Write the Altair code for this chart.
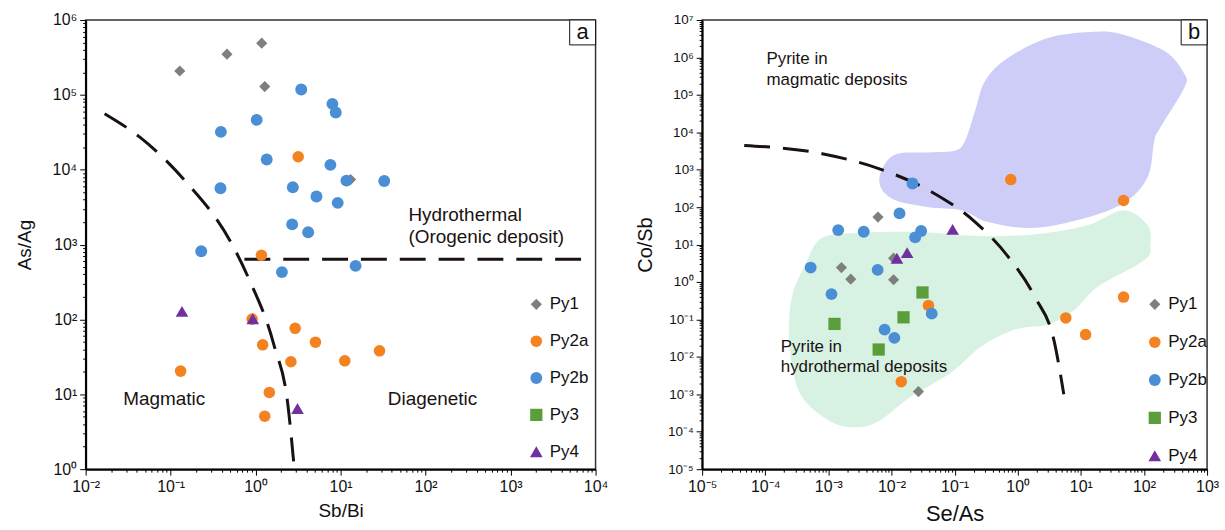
import altair as alt
import pandas as pd

FONT = "Liberation Sans, Arial, sans-serif"

GROUPS = ["Py1", "Py2a", "Py2b", "Py3", "Py4"]
COLORS = ["#7f7f7f", "#f58220", "#4a8fd6", "#5a9e3c", "#7030a0"]
SHAPES = ["diamond", "circle", "circle", "square", "triangle-up"]
SIZES = [125, 160, 160, 140, 200]

# ---------------- Panel a : As/Ag vs Sb/Bi ----------------
a_py1_x = [0.128, 0.46, 1.18, 1.28, 13.1]
a_py1_y = [2.08e5, 3.5e5, 4.9e5, 1.29e5, 7380]
a_py2a_x = [3.17, 1.17, 0.91, 2.92, 1.21, 5.06, 2.6, 11.2, 0.131, 1.45, 1.28, 28.7]
a_py2a_y = [1.49e4, 721, 101, 76, 45.8, 49.7, 27.2, 28, 20.4, 10.6, 5.1, 38.1]
a_py2b_x = [3.44, 8.0, 8.77, 1.03, 0.39, 1.35, 7.58, 11.7, 0.386, 2.74, 5.2, 9.25,
            2.69, 4.15, 32.6, 0.229, 2.04, 15.0]
a_py2b_y = [1.18e5, 7.57e4, 5.8e4, 4.63e4, 3.2e4, 1.37e4, 1.16e4, 7160, 5660, 5830,
            4390, 3610, 1860, 1460, 7080, 815, 429, 519]
a_py3_x = []
a_py3_y = []
a_py4_x = [0.136, 0.925, 3.11]
a_py4_y = [128, 102, 6.46]

a_curve_x = [0.0167, 0.0434, 0.146, 0.515, 0.81, 1.66, 2.38, 2.8]
a_curve_y = [5.6e4, 2.72e4, 7230, 1060, 374, 43.8, 7.7, 1.27]
a_hline_x = [0.738, 6890]
a_hline_y = [638, 638]

a_text = ["Hydrothermal", "(Orogenic deposit)", "Magmatic", "Diagenetic"]
a_text_x = [62.8, 62.8, 0.0277, 35.9]
a_text_y = [2478, 1262, 8.6, 8.7]

# ---------------- Panel b : Co/Sb vs Se/As ----------------
b_py1_x = [0.00611, 0.00161, 0.00226, 0.0108, 0.0267, 0.0108]
b_py1_y = [54.2, 2.43, 1.19, 1.15, 0.00118, 4.33]
b_py2a_x = [0.776, 47.5, 47.5, 5.78, 11.9, 0.0385, 0.0143]
b_py2a_y = [546, 151, 0.396, 0.110, 0.0394, 0.237, 0.00218]
b_py2b_x = [0.0215, 0.0134, 0.00143, 0.00363, 0.0295, 0.0237, 5.24e-4, 0.00604,
            0.00112, 0.0434, 0.00778, 0.0111]
b_py2b_y = [427, 68, 24.4, 22, 23, 15.6, 2.43, 2.11, 0.476, 0.143, 0.0536, 0.0322]
b_py3_x = [0.031, 0.0155, 0.00125, 0.00627]
b_py3_y = [0.526, 0.114, 0.0759, 0.0157]
b_py4_x = [0.093, 0.0177, 0.0122]
b_py4_y = [25.5, 6.1, 4.33]

b_curve_x = [4.64e-5, 7.98e-4, 0.00627, 0.0434, 0.21, 0.703, 1.85, 3.83, 5.37]
b_curve_y = [4460, 2680, 1070, 255, 40.6, 4.77, 0.411, 0.0237, 0.001]

mag_x = [0.0116, 0.0385, 0.1026, 0.1476, 0.212, 0.305, 0.703, 3.0, 14.3, 42.6, 210,
         435, 435, 182, 146, 114, 47.5, 8.93, 1.62, 0.340, 0.128, 0.0385, 0.0116,
         0.00673, 0.00698]
mag_y = [2570, 2900, 3280, 6050, 3.8e4, 2.39e5, 9.75e5, 3.32e6, 4.8e6, 4.25e6, 1.5e6,
         3.66e5, 1.55e5, 1.34e4, 6050, 628, 128, 45.1, 27.6, 39.9, 83.2, 100, 153,
         340, 964]
hyd_x = [7.88e-4, 0.00303, 0.0267, 0.236, 2.09, 12.9, 47.5, 114, 126, 102, 18.5, 8.01,
         3.0, 0.906, 0.264, 0.0887, 0.0207, 0.00627, 0.00272, 0.00114, 4.43e-4,
         2.86e-4, 2.38e-4, 2.65e-4, 4.43e-4]
hyd_y = [15.0, 20.4, 21.6, 16.9, 19.1, 33.2, 83.2, 33.2, 9.75, 3.89, 0.745, 0.182,
         0.0728, 0.0536, 0.0189, 0.00385, 8.85e-4, 1.91e-4, 1.32e-4, 1.80e-4, 6.12e-4,
         0.00301, 0.0349, 0.404, 3.24]

b_text = ["Pyrite in", "magmatic deposits", "Pyrite in", "hydrothermal deposits"]
b_text_x = [1.045e-4, 1.045e-4, 1.76e-4, 1.76e-4]
b_text_y = [9.18e5, 2.53e5, 0.0186, 0.00532]


def points_df(series):
    rows = []
    for g, xs, ys in series:
        for x, y in zip(xs, ys):
            rows.append({"group": g, "x": x, "y": y})
    return pd.DataFrame(rows)


SUP = {"-": "⁻", "0": "⁰", "1": "¹", "2": "²", "3": "³", "4": "⁴",
       "5": "⁵", "6": "⁶", "7": "⁷", "8": "⁸", "9": "⁹"}


def label_expr():
    e = "toString(round(log(datum.value)/LN10))"
    for k, v in SUP.items():
        e = "replace(%s, '%s', '%s')" % (e, k, v)
    major = "abs(log(datum.value)/LN10 - round(log(datum.value)/LN10)) < 0.001"
    return "%s ? '10' + %s : ''" % (major, e), major


def log_axis(title, lo, hi, lsize, tsize, tpad):
    vals = [m * 10.0 ** k for k in range(lo, hi) for m in range(1, 10)] + [10.0 ** hi]
    lexpr, major = label_expr()
    return alt.Axis(
        title=title, values=vals, labelExpr=lexpr, labelOverlap=False,
        labelFlush=False, grid=False, labelFont=FONT, labelFontSize=lsize,
        labelColor="#111", titleFont=FONT, titleFontSize=tsize,
        titleFontWeight="normal", titleColor="#111", titlePadding=tpad,
        domainColor="#000", domainWidth=2, tickColor="#000", tickWidth=1,
        tickSize={"condition": {"test": major, "value": 6}, "value": 3},
        labelPadding=3,
    )


def panel(pts, xlo, xhi, ylo, yhi, xtitle, ytitle, xl, yl, xt, yt, xtp, ytp,
          lines, texts, regions, letter, w, h, legx, legy, rowpad):
    xs = alt.Scale(type="log", domain=[10.0 ** xlo, 10.0 ** xhi], nice=False)
    ys = alt.Scale(type="log", domain=[10.0 ** ylo, 10.0 ** yhi], nice=False)
    X = alt.X("x:Q", scale=xs, axis=log_axis(xtitle, xlo, xhi, xl, xt, xtp))
    Y = alt.Y("y:Q", scale=ys, axis=log_axis(ytitle, ylo, yhi, yl, yt, ytp))
    layers = []
    for rx, ry, col in regions:
        df = pd.DataFrame({"x": rx, "y": ry, "i": list(range(len(rx)))})
        layers.append(alt.Chart(df).mark_line(
            interpolate="cardinal-closed", fill=col, strokeOpacity=0, clip=True
        ).encode(x=X, y=Y, order="i:Q"))
    for lx, ly, interp in lines:
        df = pd.DataFrame({"x": lx, "y": ly, "i": list(range(len(lx)))})
        layers.append(alt.Chart(df).mark_line(
            interpolate=interp, color="#1a1212", strokeWidth=3,
            strokeDash=[26, 13], clip=True
        ).encode(x=X, y=Y, order="i:Q"))
    tl, tx, ty, tsz = texts
    tdf = pd.DataFrame({"x": tx, "y": ty, "t": tl})
    layers.append(alt.Chart(tdf).mark_text(
        align="left", baseline="middle", font=FONT, fontSize=tsz, color="#1a1212"
    ).encode(x=X, y=Y, text="t:N"))
    leg = alt.Legend(title=None, orient="none", legendX=legx, legendY=legy,
                     labelFont=FONT, labelFontSize=17, labelColor="#111",
                     symbolSize=115, rowPadding=rowpad, padding=0, labelOffset=5,
                     symbolStrokeWidth=0)
    layers.append(alt.Chart(pts).mark_point(filled=True, opacity=1).encode(
        x=X, y=Y,
        color=alt.Color("group:N", scale=alt.Scale(domain=GROUPS, range=COLORS),
                        legend=leg),
        shape=alt.Shape("group:N", scale=alt.Scale(domain=GROUPS, range=SHAPES),
                        legend=leg),
        size=alt.Size("group:N", scale=alt.Scale(domain=GROUPS, range=SIZES),
                      legend=None),
    ))
    box = pd.DataFrame({"t": [letter]})
    layers.append(alt.Chart(box).mark_rect(
        fill="white", stroke="#111", strokeWidth=1
    ).encode(x=alt.value(w - 26), x2=alt.value(w), y=alt.value(0), y2=alt.value(25)))
    layers.append(alt.Chart(box).mark_text(
        font=FONT, fontSize=22, color="#111", baseline="middle", align="center"
    ).encode(x=alt.value(w - 13), y=alt.value(12), text="t:N"))
    return alt.layer(*layers).properties(width=w, height=h)


pts_a = points_df([("Py1", a_py1_x, a_py1_y), ("Py2a", a_py2a_x, a_py2a_y),
                   ("Py2b", a_py2b_x, a_py2b_y), ("Py3", a_py3_x, a_py3_y),
                   ("Py4", a_py4_x, a_py4_y)])
pts_b = points_df([("Py1", b_py1_x, b_py1_y), ("Py2a", b_py2a_x, b_py2a_y),
                   ("Py2b", b_py2b_x, b_py2b_y), ("Py3", b_py3_x, b_py3_y),
                   ("Py4", b_py4_x, b_py4_y)])

pa = panel(pts_a, -2, 4, 0, 6, "Sb/Bi", "As/Ag", 16, 16, 19, 19, 8, 18,
           [(a_curve_x, a_curve_y, "monotone"), (a_hline_x, a_hline_y, "linear")],
           (a_text, a_text_x, a_text_y, 19), [], "a", 512, 451, 444, 277, 19)
pb = panel(pts_b, -5, 3, -5, 7, "Se/As", "Co/Sb", 16, 13.5, 22, 20, 10, 12,
           [(b_curve_x, b_curve_y, "monotone")],
           (b_text, b_text_x, b_text_y, 17),
           [(hyd_x, hyd_y, "#d7f2e3"), (mag_x, mag_y, "#cdcdf7")],
           "b", 507, 451, 446, 277, 20)

chart = alt.hconcat(pa, pb, spacing=107, bounds="flush").resolve_scale(
    x="independent", y="independent", color="independent",
    shape="independent", size="independent"
).resolve_legend(color="independent", shape="independent").configure_view(
    stroke="#333", strokeWidth=1.5
).properties(padding={"left": 14, "top": 10, "right": 5, "bottom": 2},
             background="white")

chart.save("out.html", embed_options={"renderer": "svg", "actions": False})
